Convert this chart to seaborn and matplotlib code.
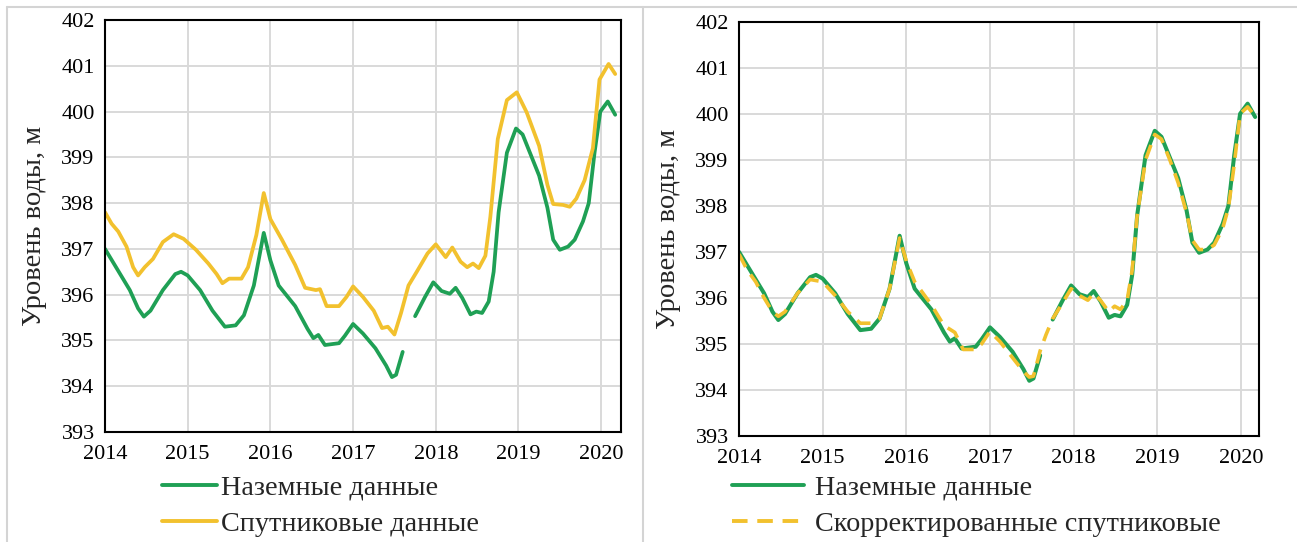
import numpy as np
import pandas as pd
import matplotlib
matplotlib.use("Agg")
import matplotlib.pyplot as plt
from matplotlib.lines import Line2D
import seaborn as sns

# ---------------- data ----------------
ground_t1 = [2014.0, 2014.1, 2014.2, 2014.3, 2014.4, 2014.47, 2014.55, 2014.7, 2014.85, 2014.92,
             2015.0, 2015.15, 2015.3, 2015.45, 2015.58, 2015.68, 2015.8, 2015.92, 2016.0, 2016.1,
             2016.3, 2016.45, 2016.52, 2016.58, 2016.66, 2016.83, 2016.9, 2017.0, 2017.12, 2017.27,
             2017.4, 2017.47, 2017.52, 2017.6]
ground_v1 = [397.0, 396.7, 396.4, 396.1, 395.7, 395.52, 395.65, 396.1, 396.45, 396.5,
             396.42, 396.1, 395.65, 395.3, 395.33, 395.55, 396.2, 397.35, 396.75, 396.2,
             395.75, 395.25, 395.05, 395.12, 394.9, 394.94, 395.1, 395.36, 395.15, 394.83,
             394.45, 394.2, 394.25, 394.75]
ground_t2 = [2017.75, 2017.87, 2017.97, 2018.07, 2018.17, 2018.24, 2018.32, 2018.42, 2018.49, 2018.56,
             2018.64, 2018.7, 2018.76, 2018.86, 2018.97, 2019.05, 2019.15, 2019.25, 2019.35, 2019.42,
             2019.5, 2019.6, 2019.68, 2019.78, 2019.85, 2019.92, 2019.99, 2020.08, 2020.17]
ground_v2 = [395.53, 395.95, 396.27, 396.08, 396.02, 396.15, 395.93, 395.57, 395.63, 395.6,
             395.85, 396.5, 397.8, 399.1, 399.63, 399.5, 399.05, 398.6, 397.9, 397.2,
             396.98, 397.05, 397.2, 397.6, 398.0, 399.1, 400.0, 400.22, 399.93]

sat_t = [2014.0, 2014.08, 2014.16, 2014.26, 2014.34, 2014.4, 2014.48, 2014.58, 2014.7, 2014.83,
         2014.95, 2015.1, 2015.25, 2015.35, 2015.42, 2015.5, 2015.65, 2015.73, 2015.83, 2015.92,
         2016.0, 2016.14, 2016.3, 2016.42, 2016.55, 2016.6, 2016.68, 2016.83, 2016.92, 2017.0,
         2017.12, 2017.25, 2017.35, 2017.42, 2017.5, 2017.58, 2017.67, 2017.77, 2017.9, 2018.0,
         2018.12, 2018.2, 2018.3, 2018.38, 2018.45, 2018.52, 2018.6, 2018.66, 2018.75, 2018.86,
         2018.98, 2019.1, 2019.25, 2019.35, 2019.42, 2019.54, 2019.62, 2019.7, 2019.8, 2019.9,
         2019.98, 2020.09, 2020.17]
sat_v = [397.8, 397.55, 397.38, 397.05, 396.6, 396.42, 396.6, 396.78, 397.15, 397.32,
         397.22, 396.98, 396.68, 396.45, 396.25, 396.35, 396.35, 396.6, 397.3, 398.22,
         397.65, 397.2, 396.65, 396.15, 396.1, 396.12, 395.75, 395.75, 395.95, 396.18,
         395.95, 395.65, 395.27, 395.3, 395.13, 395.6, 396.2, 396.5, 396.9, 397.1,
         396.82, 397.03, 396.72, 396.6, 396.68, 396.58, 396.85, 397.7, 399.4, 400.25,
         400.42, 399.98, 399.25, 398.4, 397.98, 397.96, 397.92, 398.1, 398.5, 399.2,
         400.7, 401.04, 400.82]

corr_t = [2014.0, 2014.1, 2014.2, 2014.3, 2014.4, 2014.47, 2014.55, 2014.7, 2014.85, 2015.0,
          2015.15, 2015.3, 2015.45, 2015.58, 2015.68, 2015.8, 2015.92, 2016.0, 2016.1, 2016.3,
          2016.45, 2016.58, 2016.68, 2016.83, 2016.9, 2017.0, 2017.12, 2017.27, 2017.4, 2017.47,
          2017.52, 2017.6, 2017.67, 2017.75, 2017.87, 2017.97, 2018.07, 2018.17, 2018.24, 2018.32,
          2018.42, 2018.49, 2018.56, 2018.64, 2018.7, 2018.76, 2018.86, 2018.97, 2019.05, 2019.15,
          2019.25, 2019.35, 2019.42, 2019.5, 2019.6, 2019.68, 2019.78, 2019.85, 2019.92, 2019.99,
          2020.08, 2020.17]
corr_v = [396.95, 396.6, 396.35, 396.0, 395.7, 395.6, 395.7, 396.1, 396.4, 396.35,
          396.05, 395.7, 395.45, 395.45, 395.55, 396.2, 397.3, 396.8, 396.35, 395.85,
          395.4, 395.25, 394.88, 394.88, 395.0, 395.27, 395.05, 394.7, 394.4, 394.28,
          394.3, 394.85, 395.2, 395.55, 395.9, 396.2, 396.05, 395.95, 396.1, 395.95,
          395.7, 395.82, 395.75, 395.95, 396.6, 397.8, 399.0, 399.55, 399.45, 399.0,
          398.5, 397.85, 397.25, 397.05, 397.05, 397.15, 397.5, 397.95, 398.9, 400.0,
          400.15, 399.95]

year_ticks = [2014, 2015, 2016, 2017, 2018, 2019, 2020]
level_ticks = [393, 394, 395, 396, 397, 398, 399, 400, 401, 402]
ylabel = "Уровень воды, м"
lbl_ground = "Наземные данные"
lbl_sat = "Спутниковые данные"
lbl_corr = "Скорректированные спутниковые"

GREEN = "#1fa055"
YELLOW = "#f2c12e"

# ---------------- frames ----------------
ground = pd.DataFrame({
    "t": ground_t1 + ground_t2,
    "v": ground_v1 + ground_v2,
    "seg": [0] * len(ground_t1) + [1] * len(ground_t2),
})
sat = pd.DataFrame({"t": sat_t, "v": sat_v})
corr = pd.DataFrame({"t": corr_t, "v": corr_v})

sns.set_style("white")
plt.rcParams["font.family"] = ["Liberation Serif", "DejaVu Serif"]

W, H = 1297, 542
fig = plt.figure(figsize=(W / 100, H / 100), dpi=100)

def pos(x0, x1, ytop, ybot):
    return [x0 / W, 1 - ybot / H, (x1 - x0) / W, (ybot - ytop) / H]

axL = fig.add_axes(pos(105, 621, 20, 432))
axR = fig.add_axes(pos(739, 1258.5, 21.7, 436))

def style(ax, xmax):
    ax.set_xlim(2014, xmax)
    ax.set_ylim(393, 402)
    ax.set_xticks(year_ticks)
    ax.set_yticks(level_ticks)
    ax.set_xticklabels([str(y) for y in year_ticks])
    ax.grid(True, color="#d9d9d9", lw=1.4)
    ax.set_axisbelow(True)
    for s in ax.spines.values():
        s.set_visible(True)
        s.set_color("black")
        s.set_linewidth(1.5)
    ax.tick_params(axis="both", direction="inout", length=9, width=1.3,
                   labelsize=16, colors="black", pad=3)
    ax.tick_params(axis="x", pad=5)
    ax.set_xlabel("")
    ax.set_ylabel(ylabel, fontsize=20.5, labelpad=10)

# left panel
sns.lineplot(data=ground, x="t", y="v", units="seg", estimator=None,
             color=GREEN, lw=2.7, ax=axL, legend=False, sort=False)
sns.lineplot(data=sat, x="t", y="v", estimator=None,
             color=YELLOW, lw=2.7, ax=axL, legend=False, sort=False)
style(axL, 2020.24)

# right panel
sns.lineplot(data=ground, x="t", y="v", units="seg", estimator=None,
             color=GREEN, lw=2.9, ax=axR, legend=False, sort=False)
sns.lineplot(data=corr, x="t", y="v", estimator=None,
             color=YELLOW, lw=2.6, ax=axR, legend=False, sort=False,
             dashes=False)
axR.lines[-1].set_dashes([4, 2.5])
style(axR, 2020.21)

# legends
hL = [Line2D([], [], color=GREEN, lw=2.8), Line2D([], [], color=YELLOW, lw=2.8)]
fig.legend(hL, [lbl_ground, lbl_sat], loc="upper left",
           bbox_to_anchor=(162 / W, 1 - 475 / H), frameon=False, fontsize=20.3,
           handlelength=1.95, handletextpad=0.15, labelspacing=0.38,
           borderpad=0, borderaxespad=0)
hR = [Line2D([], [], color=GREEN, lw=2.8),
      Line2D([], [], color=YELLOW, lw=2.8, dashes=[4, 2.5])]
fig.legend(hR, [lbl_ground, lbl_corr], loc="upper left",
           bbox_to_anchor=(732 / W, 1 - 475 / H), frameon=False, fontsize=20.3,
           handlelength=2.55, handletextpad=0.4, labelspacing=0.38,
           borderpad=0, borderaxespad=0)

# panel borders
bc = "#d4d4d4"
fig.add_artist(Line2D([7 / W, 7 / W], [0, 1 - 7 / H], color=bc, lw=1.5, transform=fig.transFigure))
fig.add_artist(Line2D([7 / W, 1], [1 - 7 / H, 1 - 7 / H], color=bc, lw=1.5, transform=fig.transFigure))
fig.add_artist(Line2D([643 / W, 643 / W], [0, 1 - 7 / H], color=bc, lw=1.5, transform=fig.transFigure))

fig.savefig("out.png", dpi=100)
